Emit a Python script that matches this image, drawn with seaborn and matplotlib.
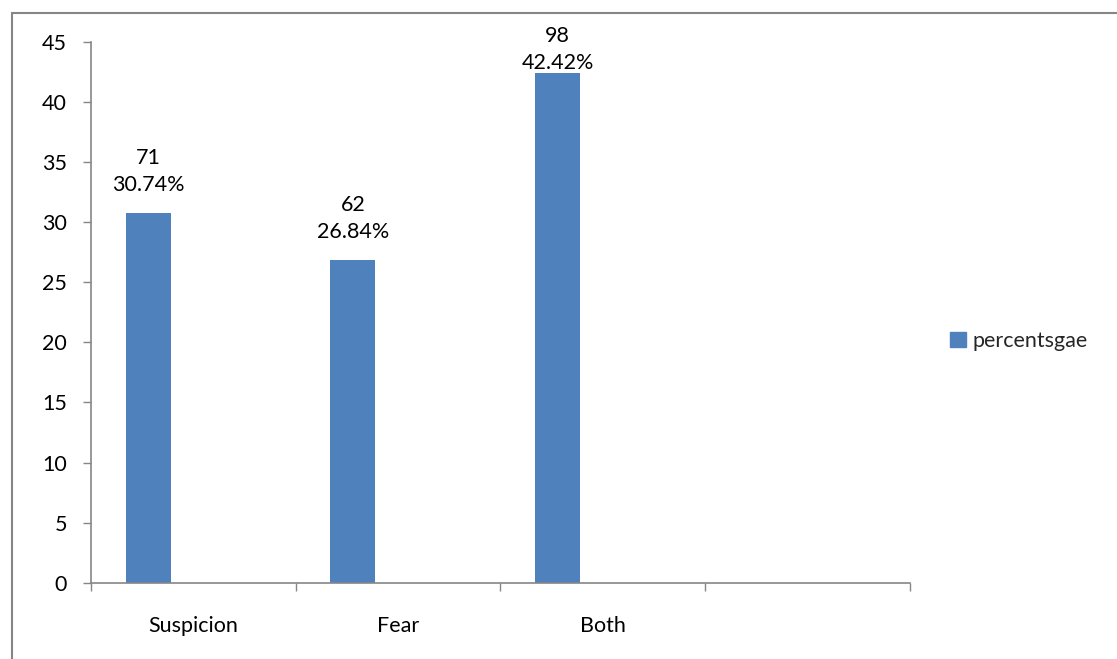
import matplotlib
matplotlib.use("Agg")
import matplotlib.pyplot as plt
import matplotlib.patches as mpatches
import seaborn as sns
import numpy as np

categories = ["Suspicion", "Fear", "Both", ""]
counts = [71, 62, 98]
percents = [30.74, 26.84, 42.42]
series_name = "percentsgae"
yticks = [0, 5, 10, 15, 20, 25, 30, 35, 40, 45]

BAR_COLOR = "#4F81BD"
AXIS_COLOR = "#868686"
FS = 15.5

sns.set_theme(style="white")
plt.rcParams['font.family'] = ['Lato', 'DejaVu Sans']

fig = plt.figure(figsize=(11.17, 6.59), dpi=100)
ax = fig.add_axes([90.7 / 1117, 76.3 / 659, (910 - 90.7) / 1117, (582.7 - 42) / 659])

pos = np.arange(len(percents)) - 0.22
sns.barplot(x=pos, y=percents, native_scale=True, width=0.22, color=BAR_COLOR,
            saturation=1, ax=ax, edgecolor="none")

ax.set_xlim(-0.5, len(categories) - 0.5)
ax.set_ylim(0, 45)
ax.set_yticks(yticks)
ax.set_yticklabels([str(t) for t in yticks])

bounds = np.arange(len(categories) + 1) - 0.5
ax.set_xticks(bounds)
ax.set_xticklabels([""] * len(bounds))
ax.set_xticks(np.arange(len(categories)), minor=True)
ax.set_xticklabels(categories, minor=True)
ax.tick_params(axis="x", which="minor", bottom=True, length=0, pad=24, labelsize=FS,
               labelcolor="black")
ax.tick_params(axis="x", which="major", bottom=True, length=6, width=1, color=AXIS_COLOR,
               direction="out")
ax.tick_params(axis="y", left=True, length=6, width=1, color=AXIS_COLOR, direction="out",
               pad=11, labelsize=FS, labelcolor="black")
ax.set_xlabel("")
ax.set_ylabel("")

for side in ["top", "right"]:
    ax.spines[side].set_visible(False)
for side in ["left", "bottom"]:
    ax.spines[side].set_color(AXIS_COLOR)
    ax.spines[side].set_linewidth(1.2)

for x, c, p in zip(pos, counts, percents):
    yc = min(p + 3.45, 44.4)
    ax.text(x, yc, f"{c}\n{p:.2f}%", ha="center", va="center", fontsize=FS,
            color="black", linespacing=1.45, clip_on=False)

handle = mpatches.Patch(color=BAR_COLOR, label=series_name)
fig.legend(handles=[handle], loc="center left", bbox_to_anchor=(950 / 1117, 1 - 341 / 659),
           frameon=False, fontsize=FS, handlelength=0.75, handleheight=0.75,
           handletextpad=0.3, borderaxespad=0, borderpad=0)

frame = mpatches.Rectangle((12 / 1117, -0.05), 1.1, (659 - 13) / 659 + 0.05,
                           transform=fig.transFigure, fill=False, edgecolor=AXIS_COLOR,
                           linewidth=1.5, clip_on=False)
fig.patches.append(frame)

fig.savefig("out.png", dpi=100)
